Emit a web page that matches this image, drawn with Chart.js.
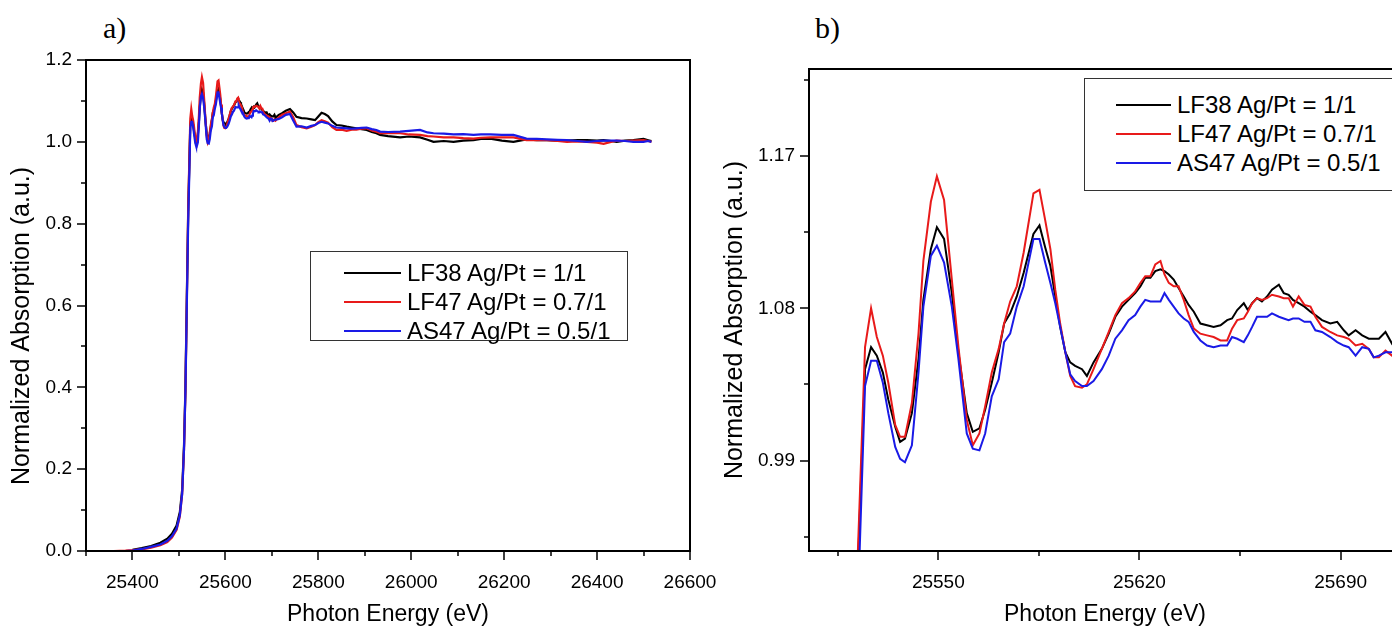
<!DOCTYPE html>
<html>
<head>
<meta charset="utf-8">
<script src="https://cdn.jsdelivr.net/npm/chart.js@4.4.0/dist/chart.umd.min.js"></script>
<style>
  html, body { margin: 0; padding: 0; background: #fff; width: 1392px; height: 628px; overflow: hidden; }
  canvas { position: absolute; top: 0; }
  #chartA { left: 0; }
  #chartB { left: 700px; }
  .tag { position: absolute; top: 10px; font-family: "Liberation Serif", serif; font-size: 30px; line-height: 36px; color: #000; }
  .legend { position: absolute; border: 1.5px solid #333; background: #fff; box-sizing: border-box;
            font-family: "Liberation Sans", Arial, sans-serif; font-size: 24px; color: #000; }
  .legend .row { display: flex; align-items: center; height: 29px; white-space: nowrap; }
  .legend .sw { height: 2px; margin-right: 6px; }
  #legendA { left: 310px; top: 251px; width: 318px; height: 90px; padding: 6px 0 0 33px; }
  #legendB { left: 1084px; top: 78px; width: 360px; height: 113px; padding: 11px 0 0 31px; }
</style>
</head>
<body>
<div class="tag" style="left:103px">a)</div>
<div class="tag" style="left:815px">b)</div>
<canvas id="chartA" width="720" height="628"></canvas>
<canvas id="chartB" width="711" height="628"></canvas>
<div class="legend" id="legendA"></div>
<div class="legend" id="legendB"></div>
<script>
// photon energy (eV), shared by all three spectra
var energy = [
  25320, 25340, 25360, 25385, 25400, 25420, 25440, 25460, 25475, 25485, 25495, 25502, 25507, 25511, 25514, 25517, 25520, 25522.5,
  25524.5, 25526.6, 25528.6, 25530.7, 25532.6, 25535.0, 25536.7, 25538.4, 25540.8, 25543.1, 25544.8, 25547.4, 25549.5, 25552.0,
  25554.7, 25557.0, 25559.9, 25562.0, 25564.3, 25566.3, 25568.6, 25571.0, 25572.9, 25575.0, 25577.3, 25579.7, 25583.1, 25585.2,
  25587.2, 25589.0, 25590.7, 25592.4, 25594.2, 25595.9, 25597.6, 25600.0, 25601.7, 25604.0, 25606.9, 25609.3, 25611.6, 25613.9,
  25616.2, 25618.5, 25620.3, 25622.0, 25623.8, 25625.5, 25627.3, 25628.7, 25630.2, 25631.9, 25633.6, 25635.4, 25637.1, 25638.9,
  25641.2, 25643.5, 25645.8, 25648.2, 25650.5, 25652.2, 25654.0, 25656.3, 25657.7, 25659.2, 25660.9, 25662.6, 25664.4, 25666.1,
  25668.5, 25670.2, 25671.9, 25673.4, 25675.4, 25677.4, 25679.5, 25681.2, 25683.5, 25686.4, 25688.8, 25691.1, 25692.8, 25695.2,
  25697.5, 25699.8, 25701.5, 25703.3, 25705.6, 25707.9,
  25715, 25722, 25730, 25739, 25746, 25753, 25764, 25775, 25785, 25793, 25800, 25807, 25814, 25821, 25830, 25839, 25850, 25861,
  25872, 25882, 25893, 25904, 25915, 25925, 25933, 25950, 25976, 25995, 26019, 26035, 26048, 26070, 26091, 26112, 26134, 26150,
  26170, 26195, 26220, 26248, 26270, 26292, 26315, 26335, 26358, 26378, 26400, 26414, 26430, 26442, 26460, 26478, 26500, 26510, 26517
];
var lf38 = [
  null, null, null, null, 0.003, 0.007, 0.012, 0.020, 0.030, 0.042, 0.062, 0.095, 0.15, 0.26, 0.40, 0.62, 0.83, 0.95,
  1.044, 1.057, 1.052, 1.042, 1.026, 1.010, 1.001, 1.003, 1.018, 1.050, 1.085, 1.115, 1.128, 1.121,
  1.089, 1.054, 1.018, 1.007, 1.009, 1.020, 1.036, 1.054, 1.071, 1.077, 1.087, 1.101, 1.124, 1.129,
  1.116, 1.105, 1.087, 1.069, 1.054, 1.048, 1.046, 1.044, 1.040, 1.048, 1.056, 1.065, 1.075, 1.081,
  1.085, 1.089, 1.093, 1.098, 1.098, 1.102, 1.103, 1.102, 1.100, 1.097, 1.092, 1.087, 1.082, 1.078,
  1.071, 1.070, 1.069, 1.070, 1.073, 1.074, 1.079, 1.083, 1.079, 1.083, 1.086, 1.084, 1.087, 1.091,
  1.094, 1.089, 1.088, 1.085, 1.083, 1.081, 1.078, 1.076, 1.073, 1.071, 1.072, 1.067, 1.064, 1.067,
  1.064, 1.062, 1.062, 1.062, 1.066, 1.059,
  1.066, 1.070, 1.076, 1.080, 1.072, 1.061, 1.058, 1.057, 1.055, 1.053, 1.062, 1.071, 1.068, 1.063, 1.050, 1.041, 1.040, 1.037,
  1.035, 1.033, 1.031, 1.029, 1.024, 1.021, 1.017, 1.014, 1.011, 1.013, 1.011, 1.005, 1.000, 1.002, 1.000, 1.003, 1.004, 1.007,
  1.008, 1.003, 1.000, 1.006, 1.004, 1.004, 1.003, 1.003, 1.004, 1.004, 1.003, 1.004, 1.002, 1.000, 1.003, 1.004, 1.007, 1.004, 1.002
];
var lf47 = [
  0.000, 0.000, 0.000, 0.001, 0.002, 0.004, 0.008, 0.014, 0.022, 0.033, 0.052, 0.085, 0.14, 0.25, 0.39, 0.61, 0.84, 0.96,
  1.057, 1.080, 1.063, 1.052, 1.036, 1.011, 1.004, 1.004, 1.024, 1.065, 1.108, 1.143, 1.158, 1.144,
  1.097, 1.057, 1.014, 0.999, 1.006, 1.022, 1.042, 1.056, 1.071, 1.084, 1.093, 1.113, 1.148, 1.150,
  1.132, 1.115, 1.091, 1.071, 1.054, 1.040, 1.034, 1.033, 1.035, 1.044, 1.056, 1.066, 1.076, 1.083,
  1.086, 1.090, 1.095, 1.099, 1.099, 1.106, 1.108, 1.100, 1.095, 1.093, 1.093, 1.085, 1.076, 1.068,
  1.065, 1.064, 1.063, 1.061, 1.061, 1.068, 1.073, 1.074, 1.078, 1.083, 1.086, 1.085, 1.086, 1.088,
  1.087, 1.086, 1.086, 1.081, 1.087, 1.082, 1.081, 1.075, 1.069, 1.066, 1.064, 1.063, 1.062, 1.058,
  1.059, 1.056, 1.051, 1.051, 1.055, 1.052,
  1.060, 1.066, 1.070, 1.074, 1.060, 1.041, 1.036, 1.033, 1.037, 1.041, 1.048, 1.053, 1.050, 1.047, 1.036, 1.029, 1.030, 1.027,
  1.030, 1.030, 1.032, 1.033, 1.028, 1.025, 1.021, 1.021, 1.021, 1.018, 1.017, 1.014, 1.013, 1.011, 1.011, 1.009, 1.008, 1.010,
  1.011, 1.011, 1.011, 1.004, 1.005, 1.004, 1.002, 1.000, 1.001, 1.000, 0.998, 0.995, 1.000, 1.003, 1.002, 1.003, 1.004, 1.002, 1.000
];
var as47 = [
  null, null, null, 0.000, 0.001, 0.005, 0.010, 0.016, 0.025, 0.036, 0.055, 0.088, 0.14, 0.25, 0.39, 0.60, 0.81, 0.93,
  1.034, 1.049, 1.049, 1.036, 1.018, 0.998, 0.991, 0.989, 0.999, 1.042, 1.081, 1.111, 1.117, 1.107,
  1.081, 1.050, 1.006, 0.997, 0.996, 1.006, 1.028, 1.038, 1.060, 1.065, 1.081, 1.093, 1.121, 1.121,
  1.107, 1.095, 1.083, 1.069, 1.054, 1.041, 1.037, 1.034, 1.034, 1.037, 1.044, 1.052, 1.062, 1.067,
  1.073, 1.076, 1.081, 1.085, 1.084, 1.084, 1.084, 1.089, 1.085, 1.081, 1.077, 1.074, 1.072, 1.066,
  1.061, 1.058, 1.057, 1.058, 1.058, 1.063, 1.062, 1.060, 1.064, 1.069, 1.075, 1.075, 1.075, 1.077,
  1.075, 1.074, 1.073, 1.074, 1.074, 1.072, 1.072, 1.067, 1.066, 1.063, 1.060, 1.058, 1.057, 1.052,
  1.057, 1.056, 1.051, 1.052, 1.054, 1.054,
  1.056, 1.060, 1.066, 1.068, 1.052, 1.037, 1.038, 1.035, 1.039, 1.041, 1.046, 1.049, 1.047, 1.045, 1.039, 1.035, 1.034, 1.033,
  1.032, 1.033, 1.034, 1.035, 1.031, 1.029, 1.025, 1.024, 1.025, 1.027, 1.029, 1.023, 1.021, 1.020, 1.018, 1.019, 1.017, 1.018,
  1.018, 1.017, 1.017, 1.008, 1.007, 1.006, 1.005, 1.004, 1.002, 1.000, 1.002, 1.003, 1.003, 1.003, 1.002, 1.000, 1.000, 1.002, 1.000
];

var seriesNames = ['LF38 Ag/Pt = 1/1', 'LF47 Ag/Pt = 0.7/1', 'AS47 Ag/Pt = 0.5/1'];
var seriesColors = ['#000000', '#e81a1a', '#1a1ae6'];

// tick values, panel a
var aXMajor = [25400, 25600, 25800, 26000, 26200, 26400, 26600];
var aXMinor = [25300, 25500, 25700, 25900, 26100, 26300, 26500];
var aYMajor = [0.0, 0.2, 0.4, 0.6, 0.8, 1.0, 1.2];
var aYMinor = [0.1, 0.3, 0.5, 0.7, 0.9, 1.1];
// tick values, panel b
var bXMajor = [25550, 25620, 25690];
var bXMinor = [25515, 25585, 25655];
var bYMajor = [0.99, 1.08, 1.17];
var bYMinor = [0.945, 1.035, 1.125, 1.215];

var FONT = 'Liberation Sans';
var Y_TITLE = 'Normalized Absorption (a.u.)';

// box round the plot, outward ticks (long = labelled, short = minor) and the y title
var framePlugin = {
    id: 'frame',
    afterDraw: function (chart) {
        var ctx = chart.ctx, a = chart.chartArea;
        var opt = chart.options.plugins.frame;
        var sx = chart.scales.x, sy = chart.scales.y;
        ctx.save();
        ctx.strokeStyle = '#000';
        ctx.lineWidth = 1.5;
        ctx.beginPath();
        sx.ticks.forEach(function (t) {
            var len = opt.xMajor.indexOf(t.value) >= 0 ? 9 : 5;
            var px = Math.round(sx.getPixelForValue(t.value));
            ctx.moveTo(px, a.bottom); ctx.lineTo(px, a.bottom + len);
        });
        sy.ticks.forEach(function (t) {
            var len = opt.yMajor.indexOf(t.value) >= 0 ? 9 : 5;
            var py = Math.round(sy.getPixelForValue(t.value));
            ctx.moveTo(a.left, py); ctx.lineTo(a.left - len, py);
        });
        ctx.stroke();
        ctx.lineWidth = 2;
        ctx.strokeRect(a.left, a.top, a.right - a.left, a.bottom - a.top);

        // y title sits a little below the axis middle in the original
        ctx.translate(opt.titleX, opt.titleY);
        ctx.rotate(-Math.PI / 2);
        ctx.fillStyle = '#000';
        ctx.font = '25px "' + FONT + '"';
        ctx.textAlign = 'center';
        ctx.textBaseline = 'middle';
        ctx.fillText(Y_TITLE, 0, 0);
        ctx.restore();
    }
};

var makeDatasets = function (lineWidth) {
    var ys = [lf38, lf47, as47];
    return ys.map(function (vals, i) {
        return {
            label: seriesNames[i],
            data: energy.map(function (e, j) { return {x: e, y: vals[j]}; }),
            borderColor: seriesColors[i],
            borderWidth: lineWidth,
            pointRadius: 0,
            tension: 0,
            spanGaps: false,
            order: 3 - i
        };
    });
};

var makeChart = function (id, cfg) {
    var ctx = document.getElementById(id).getContext('2d');
    return new Chart(ctx, {
        type: 'line',
        data: {datasets: makeDatasets(cfg.lineWidth)},
        options: {
            responsive: false,
            animation: false,
            layout: {padding: {top: cfg.top, right: cfg.right, left: 0, bottom: 0}},
            plugins: {
                legend: {display: false},
                tooltip: {enabled: false},
                frame: {xMajor: cfg.xMajor, yMajor: cfg.yMajor, titleX: cfg.titleX, titleY: cfg.titleY}
            },
            scales: {
                x: {
                    type: 'linear',
                    min: cfg.xMin, max: cfg.xMax,
                    grid: {display: false, drawTicks: false},
                    border: {display: false},
                    afterBuildTicks: function (scale) {
                        scale.ticks = cfg.xMajor.concat(cfg.xMinor).sort(function (p, q) { return p - q; })
                            .map(function (v) { return {value: v}; });
                    },
                    afterFit: function (scale) {
                        scale.height = 77;
                        scale.paddingLeft = 0;
                        scale.paddingRight = 0;
                    },
                    ticks: {
                        autoSkip: false, maxRotation: 0, padding: 20, color: '#000',
                        font: {family: FONT, size: 19},
                        callback: function (v) { return cfg.xMajor.indexOf(v) >= 0 ? String(v) : ''; }
                    },
                    title: {display: true, text: 'Photon Energy (eV)', color: '#000',
                        font: {family: FONT, size: 23}, padding: {top: 0, bottom: 0}}
                },
                y: {
                    min: cfg.yMin, max: cfg.yMax,
                    grid: {display: false, drawTicks: false},
                    border: {display: false},
                    afterBuildTicks: function (scale) {
                        scale.ticks = cfg.yMajor.concat(cfg.yMinor).sort(function (p, q) { return p - q; })
                            .map(function (v) { return {value: v}; });
                    },
                    afterFit: function (scale) {
                        scale.width = cfg.yWidth;
                        scale.paddingTop = 0;
                        scale.paddingBottom = 0;
                    },
                    ticks: {
                        autoSkip: false, padding: 14, color: '#000',
                        font: {family: FONT, size: 19},
                        callback: function (v) { return cfg.yMajor.indexOf(v) >= 0 ? v.toFixed(cfg.yDigits) : ''; }
                    }
                }
            }
        },
        plugins: [framePlugin]
    });
};

var buildLegend = function (id, lineWidth) {
    var box = document.getElementById(id);
    seriesNames.forEach(function (name, i) {
        var row = document.createElement('div');
        row.className = 'row';
        var sw = document.createElement('span');
        sw.className = 'sw';
        sw.style.width = lineWidth + 'px';
        sw.style.background = seriesColors[i];
        var txt = document.createElement('span');
        txt.textContent = name;
        row.appendChild(sw);
        row.appendChild(txt);
        box.appendChild(row);
    });
};

//panel a, full spectrum
var chartA = makeChart('chartA', {
    top: 60, right: 30, yWidth: 86, yDigits: 1, lineWidth: 2.2, titleX: 22, titleY: 326,
    xMin: 25300, xMax: 26600, yMin: 0, yMax: 1.2,
    xMajor: aXMajor, xMinor: aXMinor, yMajor: aYMajor, yMinor: aYMinor
});

//panel b, zoom on the edge region (right side runs past the page)
var chartB = makeChart('chartB', {
    top: 69, right: 10, yWidth: 109, yDigits: 2, lineWidth: 2, titleX: 35, titleY: 320,
    xMin: 25505, xMax: 25711, yMin: 0.9365, yMax: 1.2215,
    xMajor: bXMajor, xMinor: bXMinor, yMajor: bYMajor, yMinor: bYMinor
});

buildLegend('legendA', 57);
buildLegend('legendB', 55);
</script>
</body>
</html>
